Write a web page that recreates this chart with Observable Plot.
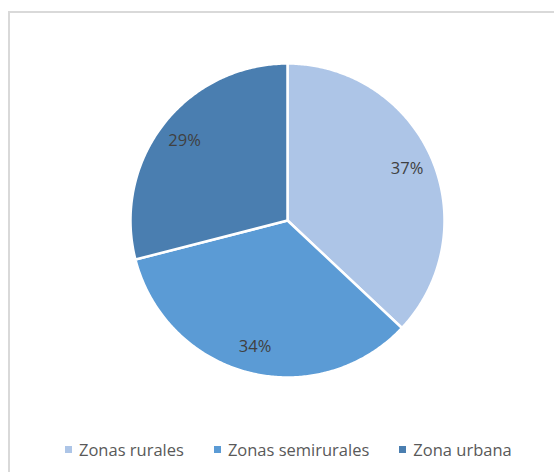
<!DOCTYPE html>
<html>
<head>
<meta charset="utf-8">
<script src="https://cdn.jsdelivr.net/npm/d3@7"></script>
<script src="https://cdn.jsdelivr.net/npm/@observablehq/plot@0.6"></script>
<style>
  html, body { margin: 0; padding: 0; background: #fff; }
  #wrap { position: relative; width: 554px; height: 472px; overflow: hidden; background: #fff; font-family: "Open Sans", "Liberation Sans", sans-serif; }
  #frame { position: absolute; left: 8px; top: 11px; width: 600px; height: 600px; border: 2px solid #d9d9d9; box-sizing: border-box; }
  #chart { position: absolute; left: 0; top: 0; }
  #legend { position: absolute; left: 0; top: 437px; width: 554px; }
  #legend > div { display: flex !important; justify-content: flex-start !important; margin: 0 0 0 65px !important; min-height: 24px !important;
    font-size: 16.5px !important; color: #595959 !important; font-family: "Open Sans", "Liberation Sans", sans-serif !important; }
  #legend > div > span { margin-right: 30px !important; display: inline-flex !important; align-items: center !important; }
  #legend > div > span:last-child { margin-right: 0 !important; }
  #legend > div > span > svg { margin-right: 7px !important; }
</style>
</head>
<body>
<div id="wrap">
  <div id="frame"></div>
  <div id="chart"></div>
  <div id="legend"></div>
</div>
<script>
const categories = ["Zonas rurales", "Zonas semirurales", "Zona urbana"];
const values = [37, 34, 29];
const colors = ["#adc5e7", "#5b9bd5", "#4a7eb0"];
const labels = ["37%", "34%", "29%"];

// Slice geometry from the data with d3.pie (clockwise from 12 o'clock, screen y down)
const pie = d3.pie().sort(null).value(d => d.value);
const rows = categories.map((c, i) => ({category: c, value: values[i], label: labels[i]}));
const arcs = pie(rows);
function slicePolygon(a) {
  const pts = [[0, 0]];
  const n = Math.max(8, Math.ceil((a.endAngle - a.startAngle) / 0.01));
  for (let k = 0; k <= n; k++) {
    const t = a.startAngle + (a.endAngle - a.startAngle) * k / n;
    pts.push([Math.sin(t), -Math.cos(t)]);
  }
  pts.push([0, 0]);
  return pts;
}
const features = arcs.map(a => ({
  type: "Feature",
  properties: {category: a.data.category},
  geometry: {type: "Polygon", coordinates: [slicePolygon(a)]}
}));
const labelPts = arcs.map(a => {
  const m = (a.startAngle + a.endAngle) / 2;
  const r = 0.83;
  return {x: r * Math.sin(m), y: -r * Math.cos(m), label: a.data.label};
});
const domain = {type: "Polygon", coordinates: [[[-1,-1],[1,-1],[1,1],[-1,1],[-1,-1]]]};

const cx = 287, cy = 220, rad = 157;
const chart = Plot.plot({
  width: 554,
  height: 472,
  marginLeft: cx - rad,
  marginRight: 554 - cx - rad,
  marginTop: cy - rad,
  marginBottom: 472 - cy - rad,
  projection: {type: "identity", domain},
  color: {domain: categories, range: colors},
  style: {background: "transparent", fontFamily: "'Open Sans', 'Liberation Sans', sans-serif"},
  marks: [
    Plot.geo(features, {fill: d => d.properties.category, stroke: "white", strokeWidth: 2.5, strokeLinejoin: "round"}),
    Plot.text(labelPts, {x: "x", y: "y", text: "label", fill: "#404040", fontSize: 16.5})
  ]
});
document.getElementById("chart").appendChild(chart);

const lg = Plot.legend({
  color: {domain: categories, range: colors},
  legend: "swatches",
  swatchSize: 7,
  className: "lg"
});
document.getElementById("legend").appendChild(lg);
</script>
</body>
</html>
